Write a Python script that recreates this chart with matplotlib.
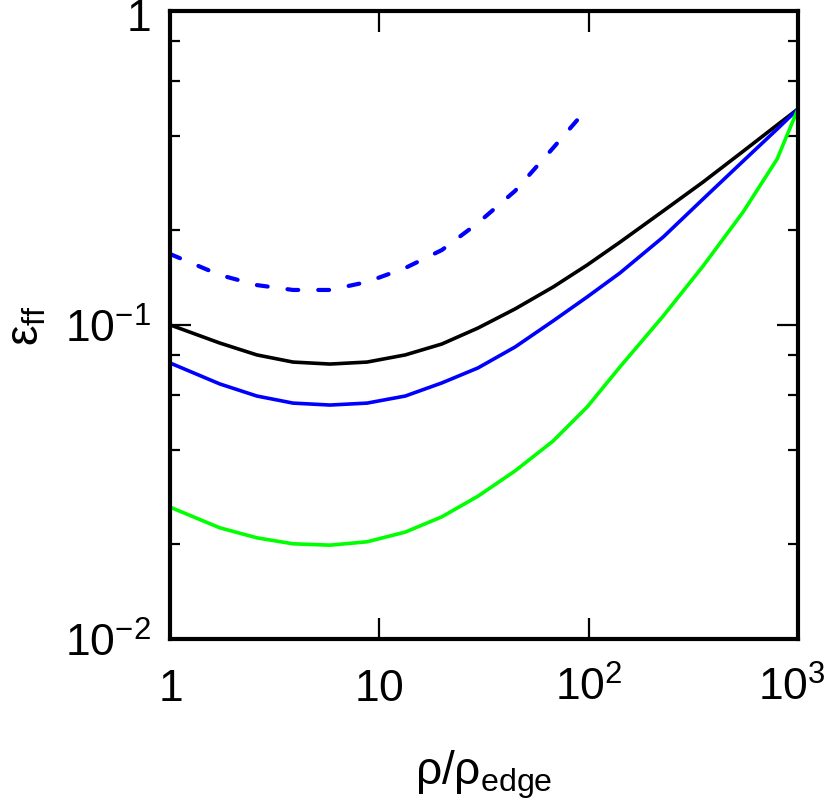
import numpy as np
import matplotlib
matplotlib.use("Agg")
import matplotlib.pyplot as plt
import matplotlib.transforms as mtransforms
from matplotlib.ticker import FixedLocator, FixedFormatter, NullLocator

plt.rcParams['font.family'] = ['Liberation Sans', 'DejaVu Sans']
plt.rcParams['mathtext.fontset'] = 'custom'
plt.rcParams['mathtext.rm'] = 'Liberation Sans'
plt.rcParams['mathtext.it'] = 'Liberation Sans:italic'
plt.rcParams['mathtext.sf'] = 'Liberation Sans'

# data
rho = [1.0, 1.73, 2.6, 3.87, 5.81, 8.74, 13.3, 19.9, 29.6, 44.5, 67.6, 98.3,
       141.0, 227.0, 352.0, 547.0, 795.0, 1000.0]
eps_black = [0.1001, 0.0876, 0.0803, 0.0762, 0.0751, 0.0762, 0.0803, 0.0870,
             0.0978, 0.1125, 0.1321, 0.1552, 0.1835, 0.2307, 0.2853, 0.3575,
             0.4335, 0.4876]
eps_blue = [0.0757, 0.0649, 0.0594, 0.0564, 0.0556, 0.0564, 0.0594, 0.0654,
            0.0730, 0.0851, 0.1030, 0.1228, 0.1464, 0.1906, 0.2519, 0.3327,
            0.4206, 0.4876]
eps_green = [0.0263, 0.0226, 0.0210, 0.0201, 0.0199, 0.0204, 0.0219, 0.0245,
             0.0285, 0.0343, 0.0427, 0.0548, 0.0735, 0.1068, 0.1541, 0.2291,
             0.3378, 0.4876]
rho_dash = [1.0, 1.73, 2.6, 3.87, 5.81, 8.74, 13.3, 19.9, 29.6, 44.5, 67.6, 95.0]
eps_dash = [0.1683, 0.1443, 0.1340, 0.1293, 0.1293, 0.1371, 0.1519, 0.1733,
            0.2113, 0.2673, 0.3662, 0.4760]

xticks = [1, 10, 100, 1000]
xticklabels = [r'$1$', r'$10$', r'$10^{2}$', r'$10^{3}$']
yticks = [0.01, 0.1, 1]
yticklabels = [r'$10^{-2}$', r'$10^{-1}$', r'$1$']
yminor = [0.02, 0.04, 0.06, 0.08, 0.2, 0.4, 0.6, 0.8]

fig = plt.figure(figsize=(8.3, 8.04), dpi=100)
ax = fig.add_axes([170/830, 164/804, 628/830, 628/804])

lw = 2.6
ax.plot(rho, eps_black, color='black', lw=lw)
ax.plot(rho, eps_blue, color='#0000ff', lw=lw)
ax.plot(rho, eps_green, color='#00ff00', lw=lw)
ax.plot(rho_dash, eps_dash, color='#0000ff', lw=3.0, dashes=(2.6, 4.8),
        dash_capstyle='round')

ax.set_xscale('log')
ax.set_yscale('log')
ax.set_xlim(1, 1000)
ax.set_ylim(0.01, 1)

ax.xaxis.set_major_locator(FixedLocator(xticks))
ax.xaxis.set_major_formatter(FixedFormatter(xticklabels))
ax.xaxis.set_minor_locator(NullLocator())
ax.yaxis.set_major_locator(FixedLocator(yticks))
ax.yaxis.set_major_formatter(FixedFormatter(yticklabels))
ax.yaxis.set_minor_locator(FixedLocator(yminor))

for s in ax.spines.values():
    s.set_linewidth(3.0)

ax.tick_params(which='both', direction='in', top=True, right=True,
               labelsize=32, width=1.6, color='black')
ax.tick_params(which='major', length=15)
ax.tick_params(which='minor', length=7.5)
ax.tick_params(axis='x', pad=44)
ax.tick_params(axis='y', pad=14)
for t in ax.get_xticklabels():
    t.set_va('baseline')

# nudge the last x label so it stays inside the figure
last = ax.xaxis.get_major_ticks()[-1].label1
last.set_transform(last.get_transform() +
                   mtransforms.ScaledTranslation(-6/100, 0, fig.dpi_scale_trans))
top = ax.yaxis.get_major_ticks()[-1].label1
top.set_transform(top.get_transform() +
                  mtransforms.ScaledTranslation(0, -3/100, fig.dpi_scale_trans))

ax.set_xlabel(r'ρ/ρ$_{\mathrm{edge}}$', fontsize=33, labelpad=28)
ax.set_ylabel(r'ε$_{\mathrm{ff}}$', fontsize=33, labelpad=12)

fig.savefig('out.png', dpi=100)
